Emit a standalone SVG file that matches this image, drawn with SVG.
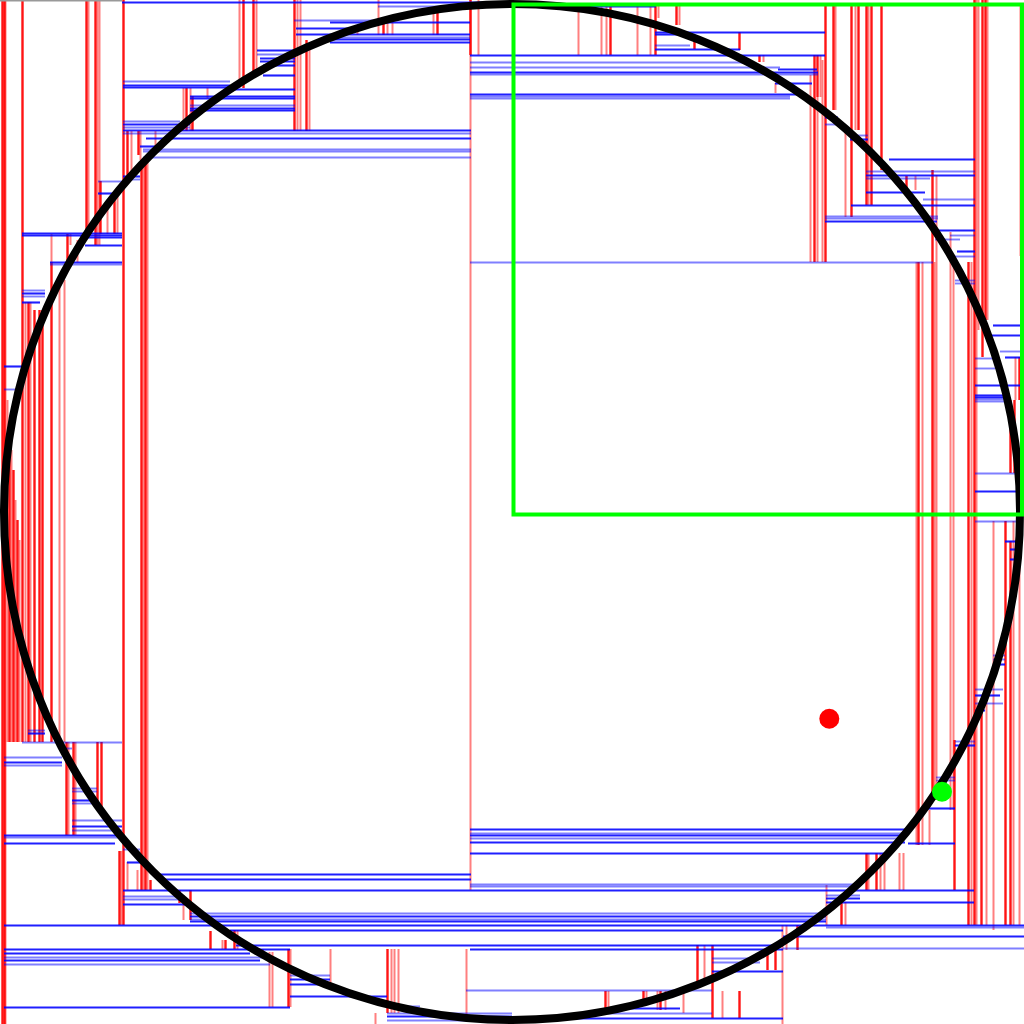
<svg xmlns="http://www.w3.org/2000/svg" width="1024" height="1024" viewBox="0 0 1024 1024">
<style>
.ln path{fill:none}
.rl{stroke:#ff0000;stroke-opacity:.5;stroke-width:2}
.rs{stroke:#ff0000;stroke-opacity:.92;stroke-width:2.4}
.bl{stroke:#0000ff;stroke-opacity:.5;stroke-width:1.9}
.bs{stroke:#0000ff;stroke-opacity:.88;stroke-width:2.1}
.gr{stroke:#999999;stroke-width:2}
</style>
<rect width="1024" height="1024" fill="#ffffff"/>
<g id="vertical-splits" class="ln">
<path class="rs" d="M2.5 0V1024"/><path class="rs" d="M4.5 0V1024"/><path class="rl" d="M5.5 0V1024"/>
<path class="rs" d="M22.5 0V742"/>
<path class="rs" d="M86.5 0V230"/><path class="rl" d="M88.5 0V230"/><path class="rs" d="M95.5 0V245"/><path class="rl" d="M97.5 0V245"/><path class="rl" d="M99.5 0V245"/>
<path class="rs" d="M123.5 0V925"/>
<path class="rl" d="M239.5 0V88"/><path class="rs" d="M243.5 0V88"/>
<path class="rs" d="M253.5 0V75"/><path class="rl" d="M256.5 0V75"/>
<path class="rs" d="M294.5 0V131"/><path class="rl" d="M297.5 0V131"/><path class="rl" d="M300.5 0V131"/><path class="rs" d="M306.5 40V131"/><path class="rl" d="M309.5 50V131"/>
<path class="rl" d="M357.5 28V35"/><path class="rl" d="M378.5 0V35"/><path class="rs" d="M383.5 18V35"/><path class="rl" d="M387.5 18V35"/><path class="rl" d="M392.5 18V35"/><path class="rl" d="M433.5 12V35"/><path class="rs" d="M437.5 12V35"/>
<path class="rl" d="M470.5 0V890"/><path class="rs" d="M470.5 0V55"/><path class="rl" d="M478.5 0V55"/>
<path class="rl" d="M183.5 88V131"/><path class="rs" d="M186.5 88V131"/><path class="rl" d="M190.5 88V131"/><path class="rs" d="M192.5 96V131"/><path class="rl" d="M207.5 88V98"/>
<path class="rs" d="M127.5 131V175"/><path class="rl" d="M131.5 131V175"/><path class="rs" d="M138.5 131V155"/><path class="rl" d="M140.5 131V160"/><path class="rl" d="M155.5 131V150"/>
<path class="rs" d="M141.5 160V890"/><path class="rl" d="M143.5 160V890"/><path class="rs" d="M145.5 160V890"/><path class="rl" d="M147.5 160V890"/>
<path class="rl" d="M51.5 234V262"/><path class="rs" d="M67.5 234V262"/><path class="rl" d="M70.5 234V245"/><path class="rl" d="M77.5 240V262"/>
<path class="rs" d="M100.5 181V234"/><path class="rl" d="M107.5 206V234"/><path class="rs" d="M114.5 195V234"/><path class="rl" d="M117.5 195V234"/>
<path class="rl" d="M25.5 302V742"/><path class="rs" d="M28.5 302V742"/><path class="rl" d="M30.5 302V742"/><path class="rs" d="M34.5 310V742"/><path class="rs" d="M39.5 310V742"/><path class="rs" d="M42.5 310V742"/>
<path class="rs" d="M51.5 262V742"/><path class="rl" d="M59.5 280V742"/><path class="rl" d="M64.5 280V742"/>
<path class="rl" d="M7.5 400V742"/><path class="rs" d="M9.5 430V742"/><path class="rl" d="M11.5 450V742"/><path class="rs" d="M13.5 470V742"/><path class="rl" d="M15.5 500V742"/><path class="rs" d="M17.5 520V742"/><path class="rl" d="M19.5 540V742"/>
<path class="rs" d="M66.5 742V835"/><path class="rl" d="M68.5 742V835"/><path class="rs" d="M73.5 742V835"/><path class="rl" d="M75.5 742V835"/>
<path class="rs" d="M97.5 742V805"/><path class="rs" d="M101.5 742V815"/>
<path class="rs" d="M119.5 851V925"/><path class="rl" d="M121.5 851V925"/>
<path class="rl" d="M127.5 862V890"/><path class="rl" d="M137.5 870V890"/><path class="rs" d="M150.5 880V890"/>
<path class="rs" d="M179.5 890V903"/><path class="rs" d="M190.5 890V920"/><path class="rl" d="M183.5 903V920"/>
<path class="rs" d="M210.5 931V949"/><path class="rl" d="M222.5 940V949"/><path class="rs" d="M225.5 940V949"/><path class="rs" d="M234.5 930V949"/><path class="rl" d="M237.5 930V949"/>
<path class="rs" d="M262.5 949V958"/><path class="rl" d="M269.5 952V1007"/><path class="rl" d="M272.5 952V1007"/>
<path class="rs" d="M288.5 949V1007"/><path class="rl" d="M290.5 949V1007"/><path class="rl" d="M330.5 949V990"/>
<path class="rs" d="M387.5 949V1013"/><path class="rl" d="M391.5 949V1013"/><path class="rl" d="M394.5 949V1013"/><path class="rl" d="M398.5 949V1013"/>
<path class="rl" d="M375.5 1013V1024"/><path class="rl" d="M466.5 949V1015"/>
<path class="rs" d="M605.5 991V1013"/><path class="rl" d="M608.5 991V1013"/>
<path class="rs" d="M643.5 991V1003"/><path class="rl" d="M646.5 991V1003"/>
<path class="rl" d="M657.5 991V1010"/><path class="rs" d="M660.5 991V1010"/><path class="rl" d="M665.5 991V1010"/><path class="rl" d="M683.5 991V1013"/>
<path class="rs" d="M697.5 945V985"/><path class="rl" d="M704.5 945V985"/><path class="rs" d="M712.5 945V1018"/>
<path class="rl" d="M722.5 991V1018"/><path class="rs" d="M739.5 991V1018"/>
<path class="rs" d="M767.5 949V970"/><path class="rs" d="M775.5 949V970"/>
<path class="rl" d="M782.5 925V1024"/><path class="rl" d="M786.5 925V950"/><path class="rs" d="M797.5 925V950"/>
<path class="rl" d="M826.5 885V925"/><path class="rs" d="M841.5 902V925"/><path class="rl" d="M845.5 902V925"/>
<path class="rs" d="M866.5 853V890"/><path class="rl" d="M868.5 853V890"/><path class="rs" d="M876.5 853V890"/><path class="rl" d="M880.5 853V890"/><path class="rl" d="M884.5 853V890"/><path class="rl" d="M899.5 853V890"/><path class="rl" d="M903.5 853V890"/>
<path class="rl" d="M916.5 262V845"/><path class="rs" d="M918.5 262V845"/><path class="rl" d="M922.5 262V845"/>
<path class="rs" d="M932.5 170V800"/><path class="rl" d="M934.5 262V800"/><path class="rl" d="M936.5 175V800"/><path class="rl" d="M929.5 810V845"/>
<path class="rl" d="M950.5 232V810"/><path class="rl" d="M953.5 262V810"/><path class="rs" d="M954.5 740V890"/>
<path class="rs" d="M968.5 262V925"/><path class="rl" d="M971.5 262V925"/><path class="rs" d="M974.5 0V925"/><path class="rl" d="M976.5 0V925"/>
<path class="rl" d="M978.5 0V330"/><path class="rs" d="M982.5 0V357"/><path class="rs" d="M985.5 0V320"/><path class="rl" d="M987.5 0V320"/>
<path class="rs" d="M981.5 700V925"/><path class="rl" d="M986.5 700V925"/>
<path class="rl" d="M993.5 521V930"/><path class="rs" d="M1005.5 521V925"/><path class="rs" d="M1010.5 541V925"/><path class="rl" d="M1013.5 521V925"/><path class="rl" d="M1019.5 521V925"/>
<path class="rs" d="M1010.5 400V473"/><path class="rs" d="M1014.5 400V473"/>
<path class="rl" d="M1015.5 357V400"/><path class="rs" d="M1019.5 357V400"/>
<path class="rs" d="M655.5 4V55"/><path class="rl" d="M658.5 4V18"/>
<path class="rl" d="M578.5 4V55"/><path class="rl" d="M601.5 4V55"/><path class="rl" d="M606.5 4V55"/><path class="rs" d="M610.5 4V55"/><path class="rl" d="M637.5 4V55"/><path class="rl" d="M650.5 4V55"/>
<path class="rs" d="M676.5 4V25"/><path class="rl" d="M679.5 4V25"/>
<path class="rs" d="M694.5 40V49"/><path class="rs" d="M739.5 32V50"/>
<path class="rs" d="M759.5 55V62"/><path class="rl" d="M763.5 55V62"/><path class="rl" d="M775.5 83V93"/>
<path class="rs" d="M817.5 55V97"/><path class="rl" d="M820.5 55V97"/>
<path class="rl" d="M810.5 75V262"/><path class="rs" d="M814.5 55V262"/><path class="rl" d="M817.5 97V262"/><path class="rl" d="M822.5 60V262"/><path class="rs" d="M825.5 4V262"/>
<path class="rs" d="M833.5 4V110"/><path class="rl" d="M835.5 4V110"/>
<path class="rl" d="M845.5 130V217"/><path class="rs" d="M851.5 4V217"/><path class="rl" d="M855.5 4V130"/><path class="rs" d="M858.5 4V130"/>
<path class="rs" d="M866.5 4V205"/><path class="rl" d="M868.5 4V205"/><path class="rs" d="M871.5 4V205"/><path class="rs" d="M881.5 4V170"/>
<path class="rs" d="M906.5 176V195"/><path class="rl" d="M915.5 176V190"/>
<path class="rl" d="M1020.5 4V256"/>
</g>
<g id="horizontal-splits" class="ln">
<path class="gr" d="M0 0.5H122"/>
<path class="bs" d="M122 2.5H512"/>
<path class="bl" d="M378 6.5H512"/><path class="bs" d="M512 6.5H656"/>
<path class="bl" d="M294 20.5H380"/><path class="bs" d="M330 22.5H470"/><path class="bs" d="M296 28.5H360"/>
<path class="bs" d="M296 34.5H470"/><path class="bl" d="M330 37.5H470"/><path class="bs" d="M330 39.5H470"/><path class="bs" d="M330 42.5H470"/>
<path class="bs" d="M257 50.5H295"/><path class="bl" d="M257 54.5H295"/><path class="bs" d="M260 58.5H295"/><path class="bs" d="M260 61.5H295"/><path class="bs" d="M263 65.5H295"/><path class="bs" d="M263 75.5H295"/>
<path class="bl" d="M123 81.5H230"/><path class="bs" d="M123 85.5H230"/><path class="bs" d="M123 87.5H230"/><path class="bs" d="M230 89.5H295"/>
<path class="bs" d="M190 96.5H295"/><path class="bs" d="M190 98.5H295"/><path class="bl" d="M190 105.5H295"/><path class="bs" d="M190 108.5H295"/><path class="bs" d="M190 110.5H295"/>
<path class="bl" d="M123 121.5H180"/><path class="bs" d="M123 124.5H190"/><path class="bl" d="M123 127.5H190"/>
<path class="bs" d="M123 130.5H471"/><path class="bl" d="M123 133.5H471"/><path class="bs" d="M146 138.5H471"/><path class="bl" d="M143 149.5H471"/><path class="bl" d="M143 151.5H471"/><path class="bl" d="M143 157.5H471"/>
<path class="bs" d="M140 146.5H160"/><path class="bs" d="M123 176.5H140"/><path class="bl" d="M123 179.5H140"/>
<path class="bl" d="M98 181.5H123"/><path class="bs" d="M98 193.5H115"/>
<path class="bs" d="M22 233.5H122"/><path class="bs" d="M22 235.5H122"/><path class="bs" d="M80 237.5H122"/><path class="bs" d="M85 245.5H122"/>
<path class="bs" d="M50 262.5H122"/><path class="bl" d="M50 264.5H122"/>
<path class="bl" d="M22 290.5H45"/><path class="bs" d="M22 293.5H45"/><path class="bl" d="M22 296.5H45"/><path class="bs" d="M22 302.5H40"/>
<path class="bs" d="M4 366.5H22"/><path class="bl" d="M4 389.5H15"/>
<path class="bs" d="M470 55.5H825"/>
<path class="bl" d="M470 62.5H745"/><path class="bl" d="M470 67.5H780"/><path class="bs" d="M470 72.5H818"/><path class="bl" d="M470 74.5H818"/>
<path class="bs" d="M470 94.5H800"/><path class="bl" d="M470 96.5H790"/><path class="bl" d="M470 98.5H790"/>
<path class="bs" d="M655 32.5H825"/><path class="bs" d="M655 34.5H680"/><path class="bl" d="M655 45.5H690"/><path class="bs" d="M655 49.5H740"/>
<path class="bs" d="M778 69.5H817"/><path class="bs" d="M775 83.5H812"/>
<path class="bs" d="M825 117.5H838"/><path class="bl" d="M825 124.5H838"/>
<path class="bl" d="M850 135.5H868"/><path class="bs" d="M850 139.5H868"/>
<path class="bs" d="M889 159.5H975"/>
<path class="bl" d="M866 171.5H975"/><path class="bs" d="M866 175.5H975"/><path class="bl" d="M866 178.5H930"/>
<path class="bs" d="M866 192.5H925"/><path class="bl" d="M923 199.5H975"/><path class="bs" d="M851 205.5H975"/>
<path class="bl" d="M825 216.5H938"/><path class="bl" d="M825 218.5H938"/><path class="bs" d="M825 221.5H937"/>
<path class="bs" d="M937 230.5H975"/><path class="bl" d="M950 235.5H975"/><path class="bl" d="M935 239.5H960"/>
<path class="bs" d="M957 251.5H975"/><path class="bl" d="M955 256.5H975"/>
<path class="bl" d="M470 262.5H933"/>
<path class="bl" d="M955 280.5H975"/><path class="bl" d="M955 283.5H975"/>
<path class="bs" d="M993 325.5H1020"/><path class="bs" d="M985 335.5H1020"/><path class="bl" d="M1000 351.5H1020"/><path class="bs" d="M1005 357.5H1020"/>
<path class="bl" d="M975 358.5H1000"/><path class="bl" d="M975 368.5H995"/><path class="bs" d="M975 385.5H1020"/>
<path class="bs" d="M975 395.5H1005"/><path class="bs" d="M975 397.5H1005"/><path class="bl" d="M975 399.5H1005"/><path class="bl" d="M975 401.5H1005"/>
<path class="bl" d="M975 473.5H1016"/><path class="bs" d="M975 491.5H1016"/>
<path class="bl" d="M975 521.5H1018"/>
<path class="bs" d="M1005 541.5H1020"/><path class="bs" d="M1010 549.5H1018"/><path class="bs" d="M1010 559.5H1018"/>
<path class="bl" d="M993 655.5H1005"/><path class="bl" d="M993 659.5H1005"/><path class="bs" d="M993 664.5H1005"/>
<path class="bl" d="M975 689.5H1003"/><path class="bs" d="M975 695.5H1000"/><path class="bl" d="M975 703.5H1003"/><path class="bs" d="M975 710.5H985"/>
<path class="bl" d="M955 741.5H975"/><path class="bs" d="M955 745.5H975"/>
<path class="bl" d="M936 777.5H955"/><path class="bl" d="M936 780.5H955"/>
<path class="bs" d="M925 808.5H955"/><path class="bs" d="M908 843.5H955"/>
<path class="bs" d="M470 829.5H909"/><path class="bl" d="M470 833.5H905"/><path class="bs" d="M470 835.5H905"/><path class="bl" d="M470 838.5H905"/><path class="bs" d="M470 842.5H905"/>
<path class="bs" d="M470 853.5H889"/>
<path class="bl" d="M470 884.5H860"/><path class="bl" d="M470 886.5H860"/>
<path class="bs" d="M123 890.5H974"/>
<path class="bl" d="M123 896.5H185"/><path class="bl" d="M123 899.5H185"/><path class="bs" d="M123 904.5H190"/>
<path class="bl" d="M826 895.5H860"/><path class="bs" d="M826 898.5H860"/><path class="bs" d="M826 902.5H974"/>
<path class="bl" d="M190 913.5H826"/><path class="bs" d="M190 916.5H826"/><path class="bl" d="M190 919.5H826"/><path class="bs" d="M190 921.5H826"/>
<path class="bs" d="M4 925.5H1024"/><path class="bl" d="M826 927.5H1024"/>
<path class="bs" d="M230 930.5H783"/><path class="bs" d="M783 936.5H1024"/>
<path class="bs" d="M236 945.5H783"/><path class="bs" d="M4 949.5H290"/><path class="bs" d="M470 949.5H783"/><path class="bl" d="M783 948.5H1024"/>
<path class="bs" d="M4 953.5H250"/><path class="bl" d="M4 957.5H270"/><path class="bs" d="M4 960.5H260"/><path class="bl" d="M4 964.5H270"/>
<path class="bl" d="M290 975.5H330"/><path class="bs" d="M290 979.5H330"/><path class="bs" d="M290 984.5H330"/>
<path class="bs" d="M290 996.5H387"/><path class="bs" d="M4 1007.5H290"/>
<path class="bl" d="M466 990.5H712"/>
<path class="bl" d="M712 958.5H760"/><path class="bl" d="M712 962.5H760"/><path class="bs" d="M712 971.5H783"/>
<path class="bs" d="M608 1008.5H680"/><path class="bl" d="M608 1013.5H712"/><path class="bs" d="M470 1018.5H783"/>
<path class="bl" d="M387 1006.5H420"/><path class="bl" d="M387 1013.5H512"/><path class="bs" d="M387 1016.5H512"/><path class="bl" d="M387 1020.5H512"/>
<path class="bs" d="M4 835.5H122"/><path class="bl" d="M4 837.5H122"/><path class="bs" d="M4 843.5H115"/>
<path class="bl" d="M72 788.5H97"/><path class="bl" d="M72 791.5H97"/><path class="bs" d="M72 800.5H97"/><path class="bl" d="M72 803.5H97"/>
<path class="bl" d="M72 820.5H122"/><path class="bs" d="M72 826.5H122"/><path class="bl" d="M72 830.5H122"/>
<path class="bl" d="M22 742.5H122"/>
<path class="bl" d="M62 748.5H72"/><path class="bl" d="M4 757.5H62"/><path class="bs" d="M4 762.5H62"/><path class="bl" d="M4 765.5H62"/>
<path class="bl" d="M28 730.5H45"/><path class="bs" d="M28 733.5H45"/>
<path class="bl" d="M123 849.5H140"/><path class="bs" d="M127 862.5H140"/>
<path class="bs" d="M157 874.5H471"/><path class="bs" d="M157 879.5H471"/>
</g>
<g id="circle">
<circle cx="512" cy="512" r="508" fill="none" stroke="#000000" stroke-width="8"/>
</g>
<g id="query-box">
<rect x="513.5" y="4.5" width="508.5" height="510" fill="none" stroke="#00ff00" stroke-width="4"/>
</g>
<g id="query-point">
<circle cx="829.3" cy="718.7" r="10" fill="#ff0000"/>
</g>
<g id="nearest-point">
<circle cx="942" cy="791.7" r="10" fill="#00ff00"/>
</g>
</svg>
